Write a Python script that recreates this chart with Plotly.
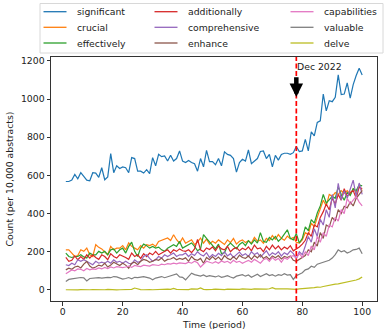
import plotly.graph_objects as go

periods = list(range(1, 101))

significant = [568, 568, 575, 605, 582, 614, 595, 575, 572, 614,
               612, 590, 640, 577, 592, 714, 614, 650, 636, 644,
               640, 614, 693, 688, 622, 622, 612, 630, 609, 693,
               650, 710, 698, 702, 675, 705, 675, 688, 728, 675,
               667, 678, 667, 661, 622, 688, 645, 731, 672, 672,
               656, 688, 650, 723, 710, 705, 688, 617, 667, 684,
               675, 733, 661, 675, 688, 725, 728, 688, 710, 645,
               705, 680, 710, 716, 716, 710, 719, 751, 725, 728,
               789, 728, 828, 807, 877, 886, 1026, 938, 991, 986,
               1009, 1126, 1023, 1026, 1084, 1005, 1075, 1123, 1161, 1126]

crucial = [210, 210, 193, 175, 180, 210, 202, 219, 184, 175,
           237, 223, 215, 202, 184, 228, 210, 219, 219, 232,
           210, 246, 228, 219, 210, 232, 219, 237, 232, 240,
           228, 254, 259, 266, 272, 259, 289, 263, 245, 272,
           245, 254, 263, 237, 250, 272, 245, 266, 240, 255,
           245, 262, 250, 238, 262, 248, 270, 240, 255, 262,
           248, 258, 245, 275, 255, 262, 245, 270, 258, 285,
           265, 290, 270, 260, 282, 268, 275, 250, 245, 262,
           300, 290, 350, 330, 380, 420, 470, 440, 500, 490,
           510, 500, 520, 505, 520, 500, 530, 510, 540, 520]

effectively = [193, 175, 170, 175, 175, 184, 173, 167, 193, 184,
               184, 202, 193, 202, 184, 210, 215, 193, 210, 219,
               193, 228, 250, 202, 175, 219, 240, 232, 219, 228,
               219, 224, 210, 202, 219, 228, 237, 228, 254, 219,
               228, 237, 246, 228, 205, 215, 290, 270, 250, 235,
               215, 240, 190, 195, 230, 245, 232, 215, 238, 250,
               232, 258, 240, 262, 245, 300, 255, 250, 275, 262,
               280, 255, 270, 290, 315, 270, 262, 295, 246, 270,
               330, 310, 368, 350, 403, 440, 500, 455, 470, 490,
               480, 540, 500, 470, 510, 495, 530, 520, 550, 545]

additionally = [170, 150, 155, 178, 158, 175, 160, 184, 167, 184,
                170, 160, 184, 175, 158, 190, 175, 167, 184, 178,
                170, 160, 193, 175, 184, 165, 190, 175, 193, 184,
                202, 184, 193, 202, 210, 193, 210, 202, 215, 205,
                202, 210, 195, 215, 265, 210, 200, 220, 212, 225,
                205, 230, 215, 210, 228, 200, 215, 222, 205, 218,
                210, 225, 205, 235, 215, 220, 200, 228, 210, 235,
                215, 230, 210, 225, 215, 232, 205, 215, 225, 240,
                260, 300, 280, 340, 330, 380, 410, 450, 420, 480,
                450, 500, 470, 530, 490, 510, 520, 480, 540, 530]

comprehensive = [132, 128, 140, 132, 158, 150, 158, 150, 140, 132,
                 150, 140, 145, 140, 150, 140, 158, 145, 150, 140,
                 150, 140, 135, 158, 145, 150, 175, 184, 165, 150,
                 158, 175, 167, 184, 175, 184, 193, 175, 184, 184,
                 193, 175, 190, 180, 200, 185, 178, 195, 170, 185,
                 175, 192, 180, 200, 178, 190, 170, 185, 198, 180,
                 190, 175, 200, 185, 195, 172, 190, 205, 180, 195,
                 185, 200, 178, 195, 185, 205, 190, 165, 200, 185,
                 230, 280, 250, 320, 280, 370, 340, 420, 380, 500,
                 430, 558, 470, 520, 480, 530, 575, 490, 560, 500]

enhance = [105, 114, 108, 120, 125, 115, 135, 149, 125, 114,
           120, 130, 125, 140, 120, 130, 145, 135, 128, 140,
           130, 114, 140, 145, 132, 150, 160, 155, 145, 150,
           160, 155, 167, 150, 160, 162, 170, 158, 165, 160,
           168, 150, 175, 160, 155, 165, 140, 170, 158, 175,
           160, 172, 155, 180, 165, 158, 175, 160, 182, 170,
           165, 178, 160, 180, 168, 185, 165, 175, 160, 178,
           168, 180, 162, 175, 170, 178, 155, 150, 160, 170,
           180, 210, 200, 250, 230, 300, 270, 340, 330, 380,
           360, 420, 400, 438, 430, 460, 440, 480, 500, 520]

capabilities = [85, 95, 105, 100, 110, 108, 100, 112, 105, 110,
                108, 115, 110, 118, 112, 120, 115, 122, 118, 117,
                120, 125, 118, 128, 125, 122, 130, 128, 125, 132,
                130, 128, 135, 132, 138, 135, 140, 137, 142, 140,
                138, 145, 140, 150, 142, 120, 135, 150, 145, 140,
                148, 140, 152, 145, 150, 140, 155, 145, 150, 140,
                148, 155, 145, 160, 150, 140, 158, 165, 150, 170,
                155, 165, 145, 168, 160, 175, 180, 165, 190, 170,
                200, 180, 230, 210, 280, 250, 300, 280, 340, 330,
                380, 360, 420, 400, 480, 450, 470, 490, 460, 440]

valuable = [44, 55, 58, 61, 62, 65, 63, 47, 60, 62,
            63, 64, 62, 65, 66, 64, 70, 68, 62, 57,
            60, 65, 58, 66, 64, 68, 70, 66, 62, 53,
            62, 66, 70, 64, 68, 72, 79, 84, 68, 66,
            53, 70, 88, 80, 75, 72, 78, 70, 75, 72,
            68, 74, 66, 70, 75, 68, 62, 72, 76, 80,
            72, 78, 66, 75, 82, 70, 78, 85, 75, 80,
            72, 80, 76, 85, 78, 80, 55, 75, 82, 90,
            105, 110, 124, 118, 135, 140, 145, 150, 155, 167,
            185, 210, 200, 205, 193, 200, 210, 212, 219, 189]

delve = [1, 0, 2, 1, 0, 2, 1, 0, 1, 2,
         1, 0, 2, 1, 3, 1, 2, 0, 1, 2,
         1, 2, 3, 10, 4, 2, 1, 3, 2, 1,
         2, 3, 1, 2, 4, 3, 8, 3, 2, 4,
         3, 2, 5, 3, 4, 10, 3, 2, 4, 3,
         4, 3, 5, 2, 4, 3, 5, 4, 3, 5,
         4, 6, 3, 5, 4, 6, 5, 4, 6, 12,
         6, 5, 7, 5, 6, 4, 5, 3, 5, 6,
         8, 10, 9, 12, 15, 14, 18, 22, 25, 28,
         30, 32, 35, 38, 42, 45, 48, 52, 58, 68]

names = ["significant", "crucial", "effectively", "additionally", "comprehensive",
         "enhance", "capabilities", "valuable", "delve"]
values = [significant, crucial, effectively, additionally, comprehensive,
          enhance, capabilities, valuable, delve]
colors = ["#1f77b4", "#ff7f0e", "#2ca02c", "#d62728", "#9467bd",
          "#8c564b", "#e377c2", "#7f7f7f", "#bcbd22"]

event_period = 78
event_label = "Dec 2022"

x_ticks = [0, 20, 40, 60, 80, 100]
y_ticks = [0, 200, 400, 600, 800, 1000, 1200]

FONT = "DejaVu Sans"
FS = 9.3
TXT = "#222"

fig = go.Figure()
for name, vals, color in zip(names, values, colors):
    fig.add_trace(go.Scatter(x=periods, y=vals, mode="lines", name=name,
                             line=dict(color=color, width=1.2), showlegend=False))

# plot area in pixels
L, R, T, B = 51, 8, 57, 28
W, H = 385, 329
pw = W - L - R
ph = H - T - B

def px2paper_x(px):
    return (px - L) / pw

def px2paper_y(py):
    return (H - B - py) / ph

# legend frame (three columns, column-major order)
fig.add_shape(type="rect", xref="paper", yref="paper",
              x0=px2paper_x(40), x1=px2paper_x(383),
              y0=px2paper_y(53), y1=px2paper_y(3.5),
              line=dict(color="#d8d8d8", width=1),
              fillcolor="rgba(255,255,255,0.8)", layer="above")
col_line_x = [43.5, 154.5, 290.5]
col_text_x = [74.5, 185.5, 321.5]
row_y = [11.7, 27.3, 43.0]
for i, (name, color) in enumerate(zip(names, colors)):
    c, r = divmod(i, 3)
    yy = px2paper_y(row_y[r])
    fig.add_shape(type="line", xref="paper", yref="paper",
                  x0=px2paper_x(col_line_x[c]), x1=px2paper_x(col_line_x[c] + 23),
                  y0=yy, y1=yy, line=dict(color=color, width=1.3), layer="above")
    fig.add_annotation(x=px2paper_x(col_text_x[c]), y=yy, xref="paper", yref="paper",
                       text=name, showarrow=False, xanchor="left", yanchor="middle",
                       font=dict(family=FONT, size=FS, color=TXT))

# axis titles
fig.add_annotation(x=0.5, y=px2paper_y(324.5), xref="paper", yref="paper",
                   text="Time (period)", showarrow=False, xanchor="center",
                   yanchor="middle", font=dict(family=FONT, size=FS, color=TXT))
fig.add_annotation(x=px2paper_x(8.5), y=0.5, xref="paper", yref="paper",
                   text="Count (per 10,000 abstracts)", showarrow=False, textangle=-90,
                   xanchor="center", yanchor="middle",
                   font=dict(family=FONT, size=FS, color=TXT))

# event line
fig.add_shape(type="line", xref="x", yref="paper", x0=event_period, x1=event_period,
              y0=0, y1=1, line=dict(color="#ff0000", width=1.7, dash="5px,2.5px"),
              layer="above")

# arrow
fig.add_annotation(x=event_period, y=1010, ax=event_period, ay=1122,
                   xref="x", yref="y", axref="x", ayref="y",
                   text="", showarrow=True, arrowhead=2, arrowsize=0.6,
                   arrowwidth=4.5, arrowcolor="black")
fig.add_annotation(x=event_period, y=1168, xref="x", yref="y", text=event_label,
                   showarrow=False, xanchor="left", yanchor="middle", xshift=-1,
                   font=dict(family=FONT, size=FS, color=TXT))

axis_common = dict(showgrid=False, zeroline=False, showline=True, linecolor="#333",
                   linewidth=1, mirror=True, ticks="outside", ticklen=3.5,
                   tickwidth=1, tickcolor="#333", automargin=False,
                   tickfont=dict(family=FONT, size=FS, color=TXT))

fig.update_xaxes(range=[-3.95, 104.95], tickvals=x_ticks, ticklabelstandoff=-2,
                 **axis_common)
fig.update_yaxes(range=[-58, 1220], tickvals=y_ticks, **axis_common)

fig.update_layout(width=W, height=H, margin=dict(l=L, r=R, t=T, b=B),
                  plot_bgcolor="white", paper_bgcolor="white", showlegend=False)

fig.write_html("out.html")
